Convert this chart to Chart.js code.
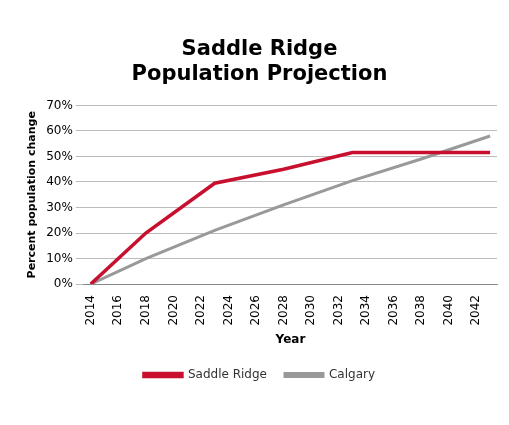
<!DOCTYPE html>
<html><head><meta charset="utf-8">
<script src="https://cdn.jsdelivr.net/npm/chart.js@4"></script>
<style>body{margin:0;background:#fff}#wrap{width:509px;height:425px}</style>
</head><body><div id="wrap"><canvas id="c"></canvas></div>
<script>
const years = [];
for (let y = 2014; y <= 2043; y++) years.push(String(y));
// known points, others null (lines span across)
const saddlePts = {2014:0, 2018:20, 2023:39.5, 2028:45, 2033:51.5, 2043:51.5};
const calgaryPts = {2014:0, 2018:10, 2023:21, 2028:31, 2033:40.5, 2038:49, 2043:58};
const saddle = years.map(y => saddlePts[y] ?? null);
const calgary = years.map(y => calgaryPts[y] ?? null);

const font = 'DejaVu Sans';
new Chart(document.getElementById('c'), {
  type: 'line',
  data: { labels: years, datasets: [
    { label:'Saddle Ridge', data:saddle, borderColor:'#c8102e', backgroundColor:'#c8102e', borderWidth:3.5, pointRadius:0, spanGaps:true, tension:0 },
    { label:'Calgary', data:calgary, borderColor:'#999', backgroundColor:'#999', borderWidth:3, pointRadius:0, spanGaps:true, tension:0 }
  ]},
  options: {
    responsive:true, maintainAspectRatio:false, animation:false,
    layout:{ padding:{ left:22, right:12, top:37, bottom:34 } },
    plugins:{
      title:{ display:true, text:['Saddle Ridge','Population Projection'], color:'#000', font:{ family:font, size:21, weight:'bold' }, padding:{ bottom:18 } },
      legend:{ position:'bottom', labels:{ boxWidth:38, boxHeight:3, color:'#333', font:{ family:font, size:12 }, padding:18 } }
    },
    scales:{
      x:{ offset:true, grid:{ display:false }, border:{ color:'#888' },
          ticks:{ autoSkip:false, maxRotation:90, minRotation:90, color:'#000', font:{ family:font, size:12 },
                  callback:(v,i)=> i%2===0 ? years[i] : '' },
          title:{ display:true, text:'Year', color:'#000', font:{ family:font, size:12, weight:'bold' } } },
      y:{ min:0, max:70, grid:{ color:'#bbb' }, border:{ display:false },
          ticks:{ stepSize:10, color:'#000', font:{ family:font, size:12 }, callback:v=>v+'%' },
          title:{ display:true, text:'Percent population change', color:'#000', font:{ family:font, size:11, weight:'bold' } } }
    }
  }
});
</script></body></html>
